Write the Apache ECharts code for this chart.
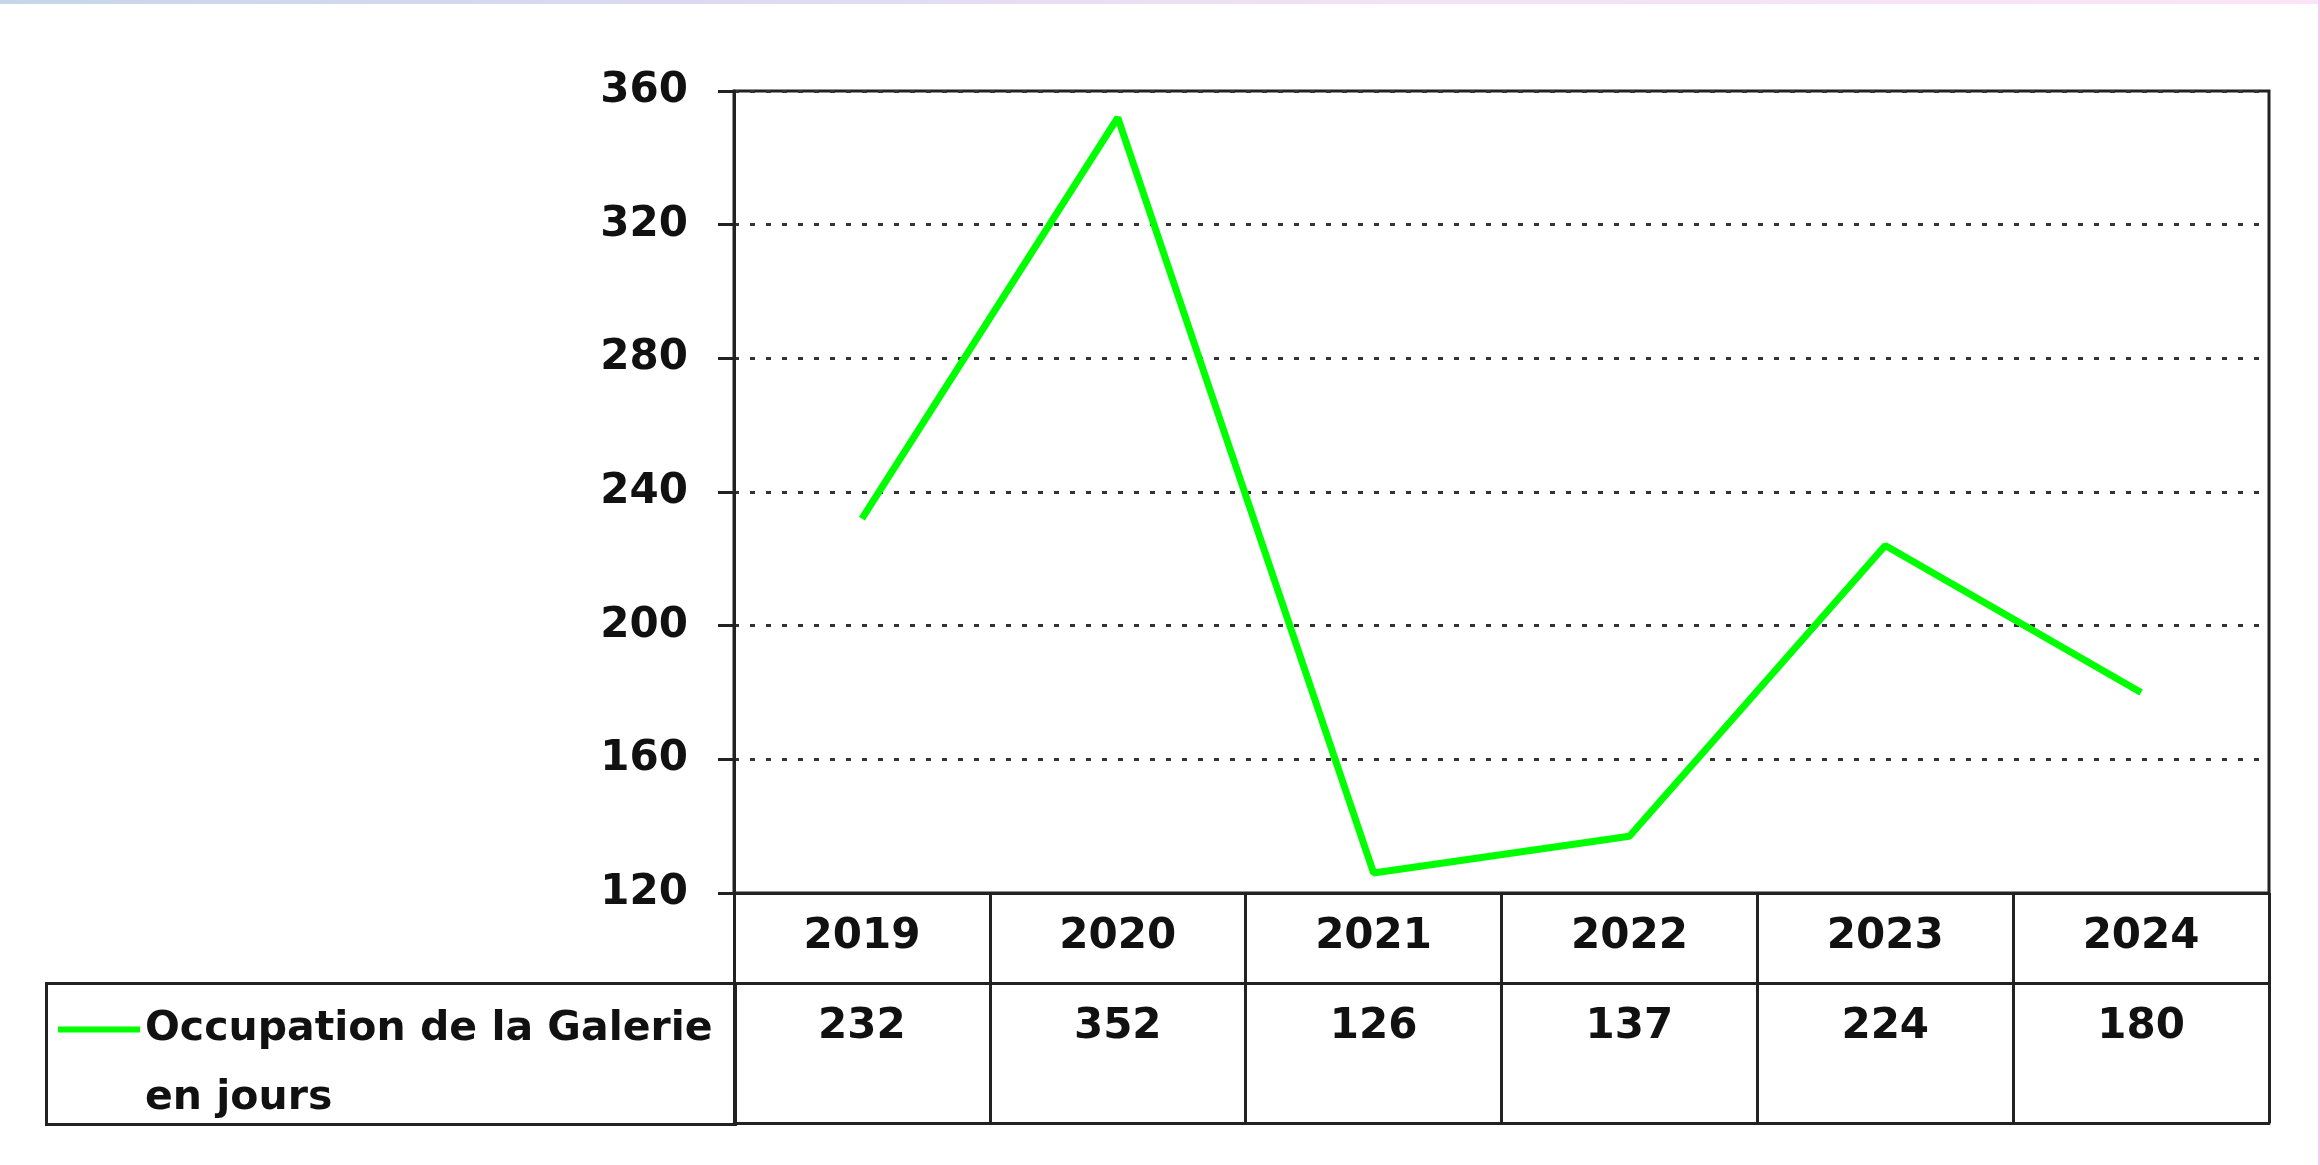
<!DOCTYPE html>
<html>
<head>
<meta charset="utf-8">
<title>Occupation de la Galerie</title>
<script src="https://cdn.jsdelivr.net/npm/echarts@6/dist/echarts.min.js"></script>
<style>
  html, body { margin: 0; padding: 0; background: #fff; }
  #chart { width: 2320px; height: 1165px; }
</style>
</head>
<body>
<div id="chart"></div>
<script>
// donnees
const years = ['2019', '2020', '2021', '2022', '2023', '2024'];
const occupation = [232, 352, 126, 137, 224, 180];
const seriesName = 'Occupation de la Galerie';
const yMin = 120;
const yMax = 360;
const yStep = 40;

const numFont = { fontFamily: 'DejaVu Sans', fontWeight: 'bold', fontSize: 42, color: '#111' };
const ink = '#222';
const green = '#00ff00';

const myChart = echarts.init(document.getElementById('chart'));

const option = {
  animation: false,
  backgroundColor: '#fff',
  grid: {
    left: 734, right: 51, top: 91, bottom: 272,
    show: true, borderColor: ink, borderWidth: 3, backgroundColor: 'transparent'
  },
  legend: {
    data: [{ name: seriesName, icon: 'rect', itemStyle: { color: green } }],
    left: 58, top: 1009, padding: 0,
    itemWidth: 82, itemHeight: 6,
    textStyle: { fontFamily: 'DejaVu Sans', fontWeight: 'bold', fontSize: 41, color: '#111' }
  },
  xAxis: [
    {
      // annees + traits verticaux du tableau
      type: 'category', data: years, position: 'bottom', boundaryGap: true,
      axisLine: { show: true, lineStyle: { color: ink, width: 3 } },
      axisTick: { show: true, inside: false, length: 230, lineStyle: { color: ink, width: 3 } },
      axisLabel: Object.assign({ margin: 22, lineHeight: 44 }, numFont),
      splitLine: { show: false }
    },
    {
      // valeurs de la serie
      type: 'category', data: occupation.map(String), position: 'bottom', offset: 90,
      axisLine: { show: true, lineStyle: { color: ink, width: 3 } },
      axisTick: { show: false },
      axisLabel: Object.assign({ margin: 22, lineHeight: 44 }, numFont),
      splitLine: { show: false }
    },
    {
      // bas du tableau
      type: 'category', data: years, position: 'bottom', offset: 230,
      axisLine: { show: true, lineStyle: { color: ink, width: 3 } },
      axisTick: { show: false },
      axisLabel: { show: false },
      splitLine: { show: false }
    }
  ],
  yAxis: {
    type: 'value', min: yMin, max: yMax, interval: yStep,
    axisLine: { show: true, lineStyle: { color: ink, width: 3 } },
    axisTick: { show: true, inside: false, length: 16, lineStyle: { color: ink, width: 3 } },
    axisLabel: Object.assign({ margin: 46 }, numFont),
    splitLine: { show: true, lineStyle: { color: '#333', width: 3, type: [5, 11] } }
  },
  series: [{
    name: seriesName,
    type: 'line',
    data: occupation,
    symbol: 'none',
    smooth: false,
    lineStyle: { color: green, width: 7 },
    itemStyle: { color: green }
  }],
  graphic: [
    {
      type: 'rect', left: 0, top: 0, z: 10,
      shape: { width: 2320, height: 4 },
      style: {
        fill: new echarts.graphic.LinearGradient(0, 0, 1, 0, [
          { offset: 0, color: '#c6d6ea' },
          { offset: 0.3, color: '#dcdaf2' },
          { offset: 0.6, color: '#f2e2f4' },
          { offset: 1, color: '#fae4f6' }
        ])
      }
    },
    {
      type: 'rect', left: 2318, top: 0, z: 10,
      shape: { width: 2, height: 1165 },
      style: { fill: '#f2cdf0' }
    },
    {
      // cadre de la legende
      type: 'rect', left: 45, top: 982, z: 5,
      shape: { width: 689, height: 141 },
      style: { fill: 'transparent', stroke: ink, lineWidth: 3 }
    },
    {
      type: 'text', left: 145, top: 1078, z: 5,
      style: { text: 'en jours', fontFamily: 'DejaVu Sans', fontWeight: 'bold', fontSize: 41, fill: '#111' }
    }
  ]
};

myChart.setOption(option, true);
</script>
</body>
</html>
